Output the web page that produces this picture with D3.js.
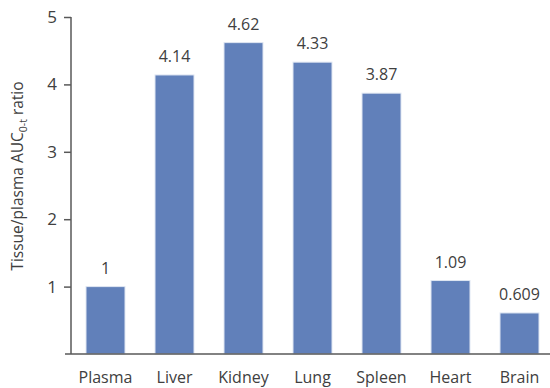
<!DOCTYPE html>
<html><head><meta charset="utf-8">
<script src="https://cdn.jsdelivr.net/npm/d3@7"></script>
<style>body{margin:0;background:#fff}svg{display:block}</style>
</head><body>
<script>
const categories = ["Plasma","Liver","Kidney","Lung","Spleen","Heart","Brain"];
const values = [1, 4.14, 4.62, 4.33, 3.87, 1.09, 0.609];
const valueLabels = ["1","4.14","4.62","4.33","3.87","1.09","0.609"];
const yTicks = [1,2,3,4,5];

const W = 550, H = 388;
const svg = d3.select("body").append("svg").attr("width", W).attr("height", H);
const font = "'Open Sans', sans-serif";
const x = d3.scaleBand().domain(categories).range([71, 554]).paddingInner(0.435).paddingOuter(0.2175);
const y = d3.scaleLinear().domain([0,5]).range([354, 17]);

svg.selectAll("rect.bar").data(values).join("rect")
  .attr("x", (d,i)=>x(categories[i])).attr("width", x.bandwidth())
  .attr("y", d=>y(d)).attr("height", d=>y(0)-y(d))
  .attr("fill", "#6180BA").attr("stroke", "#dfe6f2").attr("stroke-width", 1);

svg.selectAll("text.val").data(values).join("text")
  .attr("x", (d,i)=>x(categories[i])+x.bandwidth()/2).attr("y", d=>y(d)-13)
  .attr("text-anchor","middle").attr("font-family",font).attr("font-size",16)
  .attr("fill","#404040").text((d,i)=>valueLabels[i]);

const ya = svg.append("g").attr("transform","translate(71,0)")
  .call(d3.axisLeft(y).tickValues(yTicks).tickSize(7).tickPadding(7).tickFormat(d3.format("d")));
ya.select(".domain").attr("stroke","#595959").attr("stroke-width",1.5).attr("d","M0,17V354");
ya.selectAll(".tick line").attr("stroke","#595959").attr("stroke-width",1.5);
ya.selectAll(".tick text").attr("font-family",font).attr("font-size",17).attr("fill","#404040");

svg.append("line").attr("x1",65).attr("x2",550).attr("y1",354).attr("y2",354)
  .attr("stroke","#595959").attr("stroke-width",1.5);

svg.selectAll("text.cat").data(categories).join("text")
  .attr("x", d=>x(d)+x.bandwidth()/2).attr("y", 383)
  .attr("text-anchor","middle").attr("font-family",font).attr("font-size",16)
  .attr("fill","#404040").text(d=>d);

const t = svg.append("text").attr("transform","translate(23,176) rotate(-90)")
  .attr("text-anchor","middle").attr("font-family",font).attr("font-size",15.5).attr("fill","#404040");
t.append("tspan").text("Tissue/plasma AUC");
t.append("tspan").attr("font-size",10.5).attr("dy",4).text("0-t");
t.append("tspan").attr("dy",-4).text(" ratio");
</script>
</body></html>
